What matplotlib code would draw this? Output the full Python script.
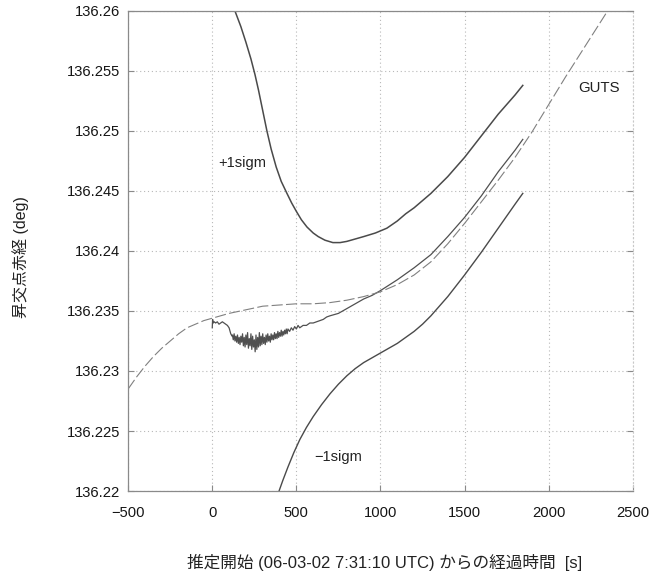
import numpy as np
import matplotlib.pyplot as plt

plt.rcParams['font.family'] = ['Liberation Sans', 'Noto Sans CJK JP', 'DejaVu Sans']

# +1 sigma bound
plus_t = [135, 170, 200, 230, 254, 275, 300, 325, 350, 380, 410, 444, 472, 500, 530, 563,
          600, 630, 670, 717, 760, 800, 850, 900, 970, 1038, 1100, 1150, 1200, 1250, 1300,
          1350, 1400, 1450, 1500, 1550, 1600, 1650, 1700, 1750, 1800, 1846]
plus_v = [136.2600, 136.2587, 136.2574, 136.2560, 136.2547, 136.2534, 136.2517, 136.2500,
          136.2485, 136.2470, 136.2458, 136.2448, 136.2440, 136.2433, 136.2426, 136.2420,
          136.2415, 136.2412, 136.2409, 136.2407, 136.2407, 136.2408, 136.2410, 136.2412,
          136.2415, 136.2419, 136.2425, 136.2431, 136.2436, 136.2442, 136.2448, 136.2455,
          136.2462, 136.2470, 136.2478, 136.2487, 136.2496, 136.2505, 136.2514, 136.2522,
          136.2530, 136.2538]

# estimate (noisy at the start)
est_t = [0, 2, 6, 12, 20, 30, 40, 50, 60, 70, 80, 90, 100, 110, 118,
         120, 125, 130, 135, 140, 145, 150, 155, 160, 165, 170, 175, 180, 185, 190, 195,
         200, 205, 210, 215, 220, 225, 230, 235, 240, 245, 250, 255, 260, 265, 270, 275,
         280, 285, 290, 295, 300, 305, 310, 315, 320, 325, 330, 335, 340, 345, 350, 355,
         360, 365, 370, 375, 380, 385, 390, 395, 400, 405, 410, 415, 420, 425, 430, 435,
         440, 445, 450, 460, 470, 480, 490, 500, 510, 520, 540, 560, 580, 600, 620, 640,
         660, 680, 700, 750, 800, 850, 900, 950, 1000, 1100, 1200, 1300, 1400, 1500, 1600,
         1700, 1800, 1846]
est_v = [136.2336, 136.2343, 136.2340, 136.2341, 136.2340, 136.2341, 136.2339, 136.2340,
         136.2341, 136.2340, 136.2339, 136.2338, 136.2336, 136.2331, 136.2329,
         136.2330, 136.2326, 136.2331, 136.2325, 136.2329, 136.2324, 136.2330, 136.2323,
         136.2328, 136.2322, 136.2329, 136.2324, 136.2331, 136.2321, 136.2328, 136.2320,
         136.2330, 136.2322, 136.2332, 136.2319, 136.2327, 136.2321, 136.2331, 136.2318,
         136.2329, 136.2320, 136.2326, 136.2316, 136.2330, 136.2318, 136.2328, 136.2320,
         136.2332, 136.2321, 136.2329, 136.2322, 136.2331, 136.2323, 136.2328, 136.2322,
         136.2330, 136.2324, 136.2331, 136.2325, 136.2329, 136.2324, 136.2331, 136.2326,
         136.2330, 136.2326, 136.2332, 136.2327, 136.2331, 136.2327, 136.2333, 136.2328,
         136.2332, 136.2329, 136.2334, 136.2329, 136.2333, 136.2330, 136.2334, 136.2331,
         136.2335, 136.2331, 136.2335, 136.2333, 136.2336, 136.2334, 136.2337, 136.2335,
         136.2338, 136.2336, 136.2338, 136.2338, 136.2340, 136.2340, 136.2341, 136.2342,
         136.2343, 136.2345, 136.2346, 136.2348, 136.2352, 136.2356, 136.2360, 136.2363,
         136.2367, 136.2376, 136.2386, 136.2397, 136.2412, 136.2428, 136.2446, 136.2466,
         136.2484, 136.2493]

# -1 sigma bound
minus_t = [397, 420, 450, 485, 521, 560, 600, 650, 700, 750, 800, 850, 900, 950, 1000, 1050,
           1100, 1150, 1200, 1250, 1300, 1350, 1400, 1450, 1500, 1600, 1700, 1800, 1846]
minus_v = [136.2200, 136.2209, 136.2220, 136.2232, 136.2243, 136.2253, 136.2262, 136.2272,
           136.2281, 136.2289, 136.2296, 136.2302, 136.2307, 136.2311, 136.2315, 136.2319,
           136.2323, 136.2328, 136.2333, 136.2339, 136.2346, 136.2354, 136.2362, 136.2371,
           136.2380, 136.2399, 136.2419, 136.2439, 136.2448]

# GUTS solution
guts_t = [-500, -450, -400, -350, -300, -250, -200, -150, -100, -50, 0, 100, 200, 300, 400,
          500, 600, 700, 800, 900, 1000, 1100, 1200, 1300, 1400, 1500, 1600, 1700, 1800,
          1900, 2000, 2100, 2200, 2300, 2350]
guts_v = [136.2285, 136.2295, 136.2304, 136.2312, 136.2319, 136.2325, 136.2331, 136.2336,
          136.2339, 136.2342, 136.2344, 136.2348, 136.2351, 136.2354, 136.2355, 136.2356,
          136.2356, 136.2357, 136.2359, 136.2362, 136.2366, 136.2372, 136.2380, 136.2391,
          136.2406, 136.2423, 136.2441, 136.2459, 136.2478, 136.2499, 136.2522, 136.2545,
          136.2567, 136.2589, 136.2600]

fig = plt.figure(figsize=(6.64, 5.72), dpi=100)
ax = fig.add_axes([0.193, 0.1416, 0.760, 0.8392])

ax.plot(plus_t, plus_v, color='#4a4a4a', lw=1.1)
ax.plot(est_t, est_v, color='#505050', lw=0.9)
ax.plot(minus_t, minus_v, color='#4a4a4a', lw=1.0)
ax.plot(guts_t, guts_v, color='#808080', lw=0.8, dashes=(10, 3))

ax.text(177, 136.2473, '+1sigm', fontsize=10.5, ha='center', va='center', color='#222222')
ax.text(2297, 136.2536, 'GUTS', fontsize=10.8, ha='center', va='center', color='#222222')
ax.text(747, 136.2228, '\u22121sigm', fontsize=10.5, ha='center', va='center', color='#222222')

ax.set_xlim(-500, 2500)
ax.set_ylim(136.22, 136.26)
ax.set_xticks(np.arange(-500, 2501, 500))
ax.set_yticks(np.arange(136.22, 136.2601, 0.005))
ax.set_yticklabels(['136.22', '136.225', '136.23', '136.235', '136.24',
                    '136.245', '136.25', '136.255', '136.26'])
ax.grid(True, color='#b8b8b8', ls=(0, (1, 2.5)), lw=0.8)

for s in ['left', 'bottom', 'top']:
    ax.spines[s].set_color('#8a8a8a')
    ax.spines[s].set_linewidth(0.9)
ax.spines['right'].set_color('#c8c8c8')
ax.spines['right'].set_linestyle((0, (1, 2.5)))

ax.tick_params(axis='both', direction='in', length=4, color='#8a8a8a', labelsize=10.6,
               labelcolor='#151515', right=True)
ax.tick_params(axis='x', pad=11)
ax.tick_params(axis='y', pad=6)

fig.text(0.031, 0.551, '昇交点赤経 (deg)', rotation=90, fontsize=11.5, ha='center',
         va='center', color='#222222')
fig.text(0.579, 0.016, '推定開始 (06-03-02 7:31:10 UTC) からの経過時間  [s]', fontsize=12,
         ha='center', va='center', color='#222222')

fig.savefig('out.png', dpi=100, facecolor='white')
